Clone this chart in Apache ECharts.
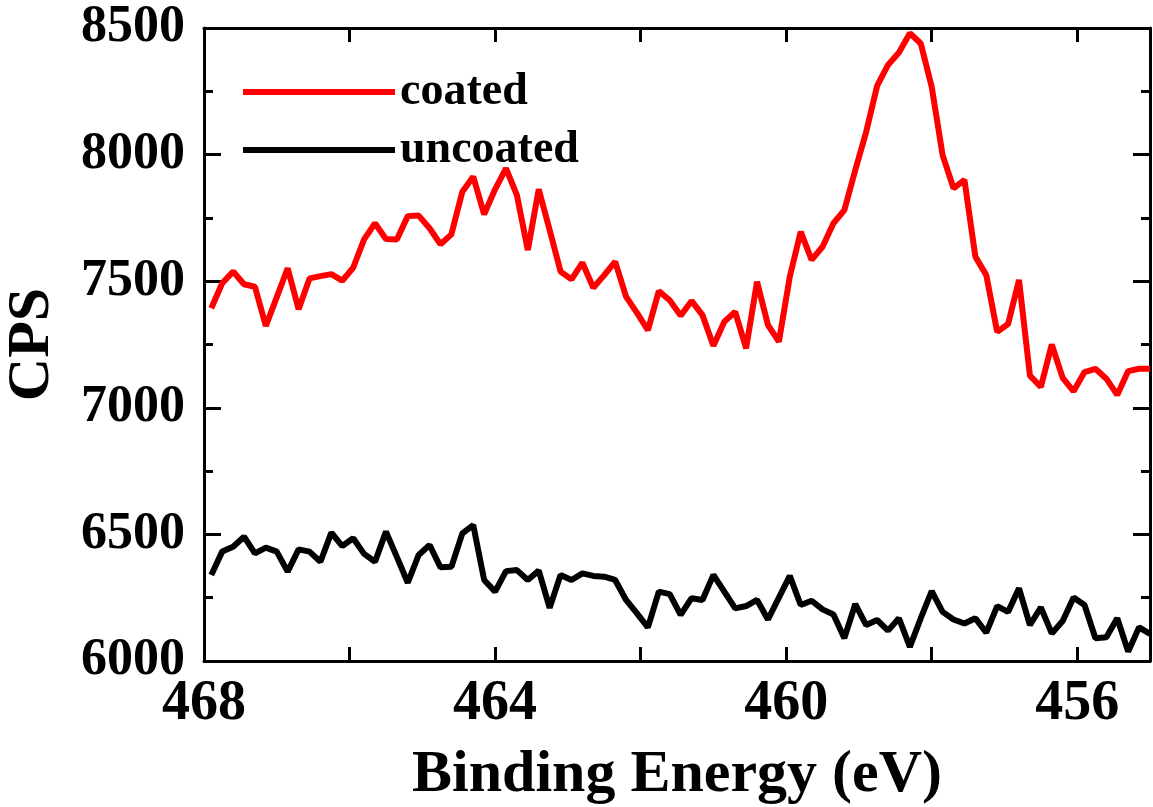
<!DOCTYPE html>
<html>
<head>
<meta charset="utf-8">
<script src="https://cdn.jsdelivr.net/npm/echarts@6/dist/echarts.min.js"></script>
<style>
  html, body { margin: 0; padding: 0; background: #fff; }
  #chart { width: 1153px; height: 807px; }
</style>
</head>
<body>
<div id="chart"></div>
<script>
// binding energy grid (eV)
var energies = [
  467.9, 467.75, 467.6, 467.45, 467.3, 467.15, 467.0, 466.85, 466.7, 466.55,
  466.4, 466.25, 466.1, 465.95, 465.8, 465.65, 465.5, 465.35, 465.2, 465.05,
  464.9, 464.75, 464.6, 464.45, 464.3, 464.15, 464.0, 463.85, 463.7, 463.55,
  463.4, 463.25, 463.1, 462.95, 462.8, 462.65, 462.5, 462.35, 462.2, 462.05,
  461.9, 461.75, 461.6, 461.45, 461.3, 461.15, 461.0, 460.85, 460.7, 460.55,
  460.4, 460.25, 460.1, 459.95, 459.8, 459.65, 459.5, 459.35, 459.2, 459.05,
  458.9, 458.75, 458.6, 458.45, 458.3, 458.15, 458.0, 457.85, 457.7, 457.55,
  457.4, 457.25, 457.1, 456.95, 456.8, 456.65, 456.5, 456.35, 456.2, 456.05,
  455.9, 455.75, 455.6, 455.45, 455.3, 455.15, 455.0
];

var coated = [
  7393, 7492, 7538, 7488, 7478, 7323, 7437, 7551, 7389, 7511,
  7520, 7528, 7502, 7553, 7665, 7729, 7667, 7665, 7757, 7759,
  7709, 7646, 7685, 7853, 7913, 7764, 7863, 7946, 7840, 7623,
  7863, 7702, 7538, 7507, 7573, 7474, 7524, 7577, 7439, 7375,
  7307, 7461, 7425, 7364, 7422, 7366, 7245, 7340, 7379, 7235,
  7498, 7327, 7261, 7518, 7695, 7584, 7636, 7729, 7781, 7939,
  8090, 8271, 8354, 8403, 8479, 8439, 8268, 7998, 7867, 7900,
  7597, 7524, 7300, 7331, 7505, 7127, 7082, 7250, 7118, 7065,
  7141, 7154, 7115, 7051, 7145, 7154, 7154
];

var uncoated = [
  6340, 6432, 6451, 6491, 6425, 6448, 6432, 6353, 6441, 6432,
  6392, 6507, 6454, 6485, 6423, 6392, 6511, 6411, 6309, 6419,
  6458, 6370, 6372, 6504, 6537, 6320, 6274, 6355, 6359, 6320,
  6357, 6210, 6340, 6320, 6346, 6336, 6333, 6320, 6241, 6188,
  6133, 6274, 6264, 6182, 6248, 6241, 6340, 6274, 6208, 6217,
  6241, 6164, 6250, 6336, 6221, 6238, 6204, 6184, 6090, 6225,
  6142, 6162, 6120, 6169, 6056, 6169, 6276, 6194, 6164, 6148,
  6169, 6112, 6217, 6194, 6287, 6142, 6212, 6109, 6158, 6251,
  6221, 6090, 6094, 6169, 6037, 6133, 6107
];

var xLabels = [456, 460, 464, 468];
var xTicks = [456, 458, 460, 462, 464, 466, 468];

var font = 'Liberation Serif';

function pairs(vals) {
  var out = [];
  for (var i = 0; i < energies.length; i++) out.push([energies[i], vals[i]]);
  return out;
}

var chart = echarts.init(document.getElementById('chart'));

option = {
  animation: false,
  grid: { left: 204, right: 3, top: 28, bottom: 146, outerBoundsMode: 'none' },
  legend: {
    orient: 'vertical', left: 238, top: 64,
    itemWidth: 152, itemHeight: 6, itemGap: 12,
    icon: 'rect',
    textStyle: { fontFamily: font, fontWeight: 'bold', fontSize: 46, color: '#000' },
    data: ['coated', 'uncoated']
  },
  xAxis: [
    {
      type: 'value', position: 'bottom', min: 455, max: 468, inverse: true,
      name: 'Binding Energy (eV)', nameLocation: 'middle', nameGap: 84,
      nameTextStyle: { fontFamily: font, fontWeight: 'bold', fontSize: 60, color: '#000' },
      axisLine: { show: true, lineStyle: { color: '#000', width: 3 } },
      axisTick: { show: true, inside: true, length: 14, customValues: xTicks,
                  lineStyle: { color: '#000', width: 3 } },
      axisLabel: { show: true, customValues: xLabels, margin: 16,
                   fontFamily: font, fontWeight: 'bold', fontSize: 56, color: '#000' },
      splitLine: { show: false }
    },
    {
      type: 'value', position: 'top', min: 455, max: 468, inverse: true,
      axisLine: { show: true, lineStyle: { color: '#000', width: 3 } },
      axisTick: { show: true, inside: true, length: 14, customValues: xTicks,
                  lineStyle: { color: '#000', width: 3 } },
      axisLabel: { show: true, customValues: xLabels, fontSize: 1, color: 'rgba(0,0,0,0)' },
      splitLine: { show: false }
    }
  ],
  yAxis: [
    {
      type: 'value', position: 'left', min: 6000, max: 8500, interval: 500,
      name: 'CPS', nameLocation: 'middle', nameGap: 142,
      nameTextStyle: { fontFamily: font, fontWeight: 'bold', fontSize: 60, color: '#000' },
      axisLine: { show: true, lineStyle: { color: '#000', width: 3 } },
      axisTick: { show: true, inside: true, length: 17, lineStyle: { color: '#000', width: 3 } },
      minorTick: { show: true, splitNumber: 2, length: 9, lineStyle: { color: '#000', width: 3 } },
      axisLabel: { show: true, margin: 19, formatter: function (v) { return String(v); },
                   fontFamily: font, fontWeight: 'bold', fontSize: 52, color: '#000' },
      splitLine: { show: false }
    },
    {
      type: 'value', position: 'right', min: 6000, max: 8500, interval: 500,
      axisLine: { show: true, lineStyle: { color: '#000', width: 3 } },
      axisTick: { show: true, inside: true, length: 17, lineStyle: { color: '#000', width: 3 } },
      minorTick: { show: true, splitNumber: 2, length: 9, lineStyle: { color: '#000', width: 3 } },
      axisLabel: { show: true, fontSize: 1, color: 'rgba(0,0,0,0)' },
      splitLine: { show: false }
    }
  ],
  series: [
    {
      name: 'coated', type: 'line',
      data: pairs(coated), showSymbol: false, color: '#ff0000',
      lineStyle: { color: '#ff0000', width: 6 }
    },
    {
      name: 'uncoated', type: 'line',
      data: pairs(uncoated), showSymbol: false, color: '#000000',
      lineStyle: { color: '#000000', width: 6 }
    }
  ]
};

chart.setOption(option, true);
</script>
</body>
</html>
